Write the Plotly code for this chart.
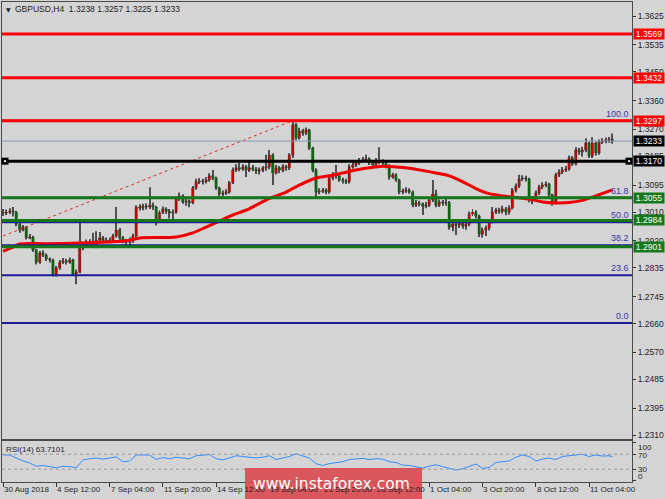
import plotly.graph_objects as go

W, H = 665, 499

# ---------------- data ----------------
opens = [1.3010,1.3007,1.3010,1.3013,1.3010,1.2972,1.2954,1.2963,1.2929,1.2932,
1.2891,1.2853,1.2882,1.2875,1.2863,1.2860,1.2812,1.2835,1.2853,1.2857,
1.2853,1.2860,1.2816,1.2822,1.2897,1.2907,1.2916,1.2910,1.2903,1.2922,
1.2929,1.2922,1.2919,1.2922,1.2935,1.2954,1.2929,1.2919,1.2916,1.2922,
1.2935,1.3026,1.3023,1.3029,1.3026,1.3032,1.3026,1.2985,1.3010,1.3020,
1.3013,1.3007,1.3010,1.3051,1.3061,1.3042,1.3045,1.3039,1.3086,1.3105,
1.3108,1.3105,1.3111,1.3124,1.3117,1.3086,1.3067,1.3070,1.3073,1.3102,
1.3142,1.3149,1.3145,1.3152,1.3142,1.3149,1.3145,1.3139,1.3142,1.3149,
1.3152,1.3189,1.3133,1.3149,1.3142,1.3152,1.3149,1.3189,1.3284,1.3243,
1.3265,1.3258,1.3268,1.3211,1.3142,1.3073,1.3076,1.3079,1.3073,1.3117,
1.3127,1.3124,1.3111,1.3108,1.3105,1.3152,1.3158,1.3164,1.3171,1.3174,
1.3177,1.3164,1.3158,1.3171,1.3167,1.3164,1.3155,1.3120,1.3127,1.3111,
1.3073,1.3076,1.3079,1.3073,1.3032,1.3039,1.3036,1.3029,1.3032,1.3048,
1.3067,1.3032,1.3042,1.3039,1.3040,1.2963,1.2972,1.2969,1.2976,1.2966,
1.2972,1.3004,1.3010,1.2998,1.2941,1.2954,1.2960,1.2979,1.3010,1.3016,
1.3013,1.3020,1.3010,1.3023,1.3079,1.3092,1.3114,1.3117,1.3114,1.3048,
1.3051,1.3070,1.3089,1.3095,1.3098,1.3064,1.3039,1.3127,1.3136,1.3142,
1.3145,1.3180,1.3161,1.3205,1.3199,1.3205,1.3227,1.3186,1.3227,1.3196,
1.3230,1.3233,1.3236,1.3238]

highs = [1.3020,1.3018,1.3022,1.3026,1.3014,1.2978,1.2970,1.2966,1.2941,1.2936,
1.2895,1.2888,1.2890,1.2880,1.2868,1.2864,1.2841,1.2860,1.2866,1.2864,
1.2868,1.2864,1.2830,1.2988,1.2915,1.2924,1.2925,1.2945,1.2950,1.2948,
1.2935,1.2930,1.2930,1.2942,1.3026,1.2960,1.2935,1.2926,1.2930,1.2942,
1.3032,1.3035,1.3036,1.3038,1.3088,1.3040,1.3030,1.3016,1.3028,1.3025,
1.3020,1.3018,1.3058,1.3072,1.3066,1.3052,1.3050,1.3092,1.3115,1.3116,
1.3115,1.3120,1.3132,1.3142,1.3122,1.3090,1.3078,1.3082,1.3108,1.3150,
1.3160,1.3165,1.3160,1.3158,1.3168,1.3158,1.3152,1.3150,1.3155,1.3190,
1.3205,1.3195,1.3158,1.3155,1.3160,1.3158,1.3195,1.3297,1.3290,1.3275,
1.3272,1.3276,1.3272,1.3215,1.3148,1.3085,1.3086,1.3085,1.3124,1.3136,
1.3158,1.3130,1.3118,1.3115,1.3160,1.3168,1.3172,1.3180,1.3183,1.3190,
1.3182,1.3170,1.3180,1.3214,1.3176,1.3170,1.3160,1.3134,1.3132,1.3115,
1.3084,1.3088,1.3085,1.3078,1.3048,1.3046,1.3040,1.3042,1.3055,1.3111,
1.3080,1.3050,1.3048,1.3052,1.3045,1.2980,1.2978,1.2985,1.2982,1.2980,
1.3012,1.3020,1.3016,1.3002,1.2962,1.2968,1.2986,1.3026,1.3024,1.3024,
1.3030,1.3026,1.3032,1.3086,1.3100,1.3127,1.3126,1.3124,1.3118,1.3060,
1.3078,1.3096,1.3104,1.3106,1.3102,1.3068,1.3134,1.3145,1.3152,1.3155,
1.3188,1.3186,1.3214,1.3212,1.3215,1.3242,1.3232,1.3245,1.3232,1.3238,
1.3242,1.3244,1.3246,1.3257]

lows = [1.2998,1.3001,1.3004,1.2996,1.2966,1.2945,1.2950,1.2924,1.2925,1.2885,
1.2846,1.2848,1.2869,1.2857,1.2852,1.2808,1.2808,1.2829,1.2847,1.2846,
1.2848,1.2810,1.2784,1.2818,1.2890,1.2900,1.2904,1.2898,1.2897,1.2915,
1.2915,1.2912,1.2913,1.2917,1.2930,1.2922,1.2912,1.2908,1.2900,1.2913,
1.2930,1.3015,1.3016,1.3018,1.3020,1.3017,1.2968,1.2980,1.3004,1.3005,
1.2990,1.2985,1.3005,1.3045,1.3036,1.3030,1.3025,1.3035,1.3080,1.3098,
1.3097,1.3100,1.3105,1.3110,1.3080,1.3060,1.3060,1.3064,1.3068,1.3098,
1.3136,1.3138,1.3140,1.3120,1.3136,1.3138,1.3130,1.3128,1.3135,1.3140,
1.3145,1.3095,1.3128,1.3132,1.3135,1.3140,1.3142,1.3180,1.3236,1.3238,
1.3250,1.3252,1.3205,1.3135,1.3051,1.3066,1.3070,1.3066,1.3068,1.3110,
1.3115,1.3105,1.3100,1.3098,1.3100,1.3146,1.3152,1.3158,1.3165,1.3168,
1.3158,1.3150,1.3152,1.3160,1.3155,1.3148,1.3112,1.3115,1.3105,1.3066,
1.3066,1.3070,1.3068,1.3025,1.3026,1.3028,1.3001,1.3022,1.3026,1.3042,
1.3025,1.3026,1.3030,1.3030,1.2955,1.2950,1.2938,1.2960,1.2958,1.2955,
1.2966,1.2998,1.2990,1.2932,1.2930,1.2935,1.2952,1.2974,1.3004,1.3005,
1.3006,1.3000,1.3002,1.3018,1.3072,1.3086,1.3108,1.3106,1.3040,1.3035,
1.3045,1.3064,1.3082,1.3088,1.3058,1.3030,1.3035,1.3120,1.3130,1.3136,
1.3140,1.3155,1.3156,1.3190,1.3185,1.3198,1.3180,1.3180,1.3188,1.3190,
1.3224,1.3226,1.3228,1.3225]

closes = [1.3007,1.3010,1.3013,1.3010,1.2972,1.2954,1.2963,1.2929,1.2932,1.2891,
1.2853,1.2882,1.2875,1.2863,1.2860,1.2812,1.2835,1.2853,1.2857,1.2853,
1.2860,1.2816,1.2822,1.2897,1.2907,1.2916,1.2910,1.2903,1.2922,1.2929,
1.2922,1.2919,1.2922,1.2935,1.2954,1.2929,1.2919,1.2916,1.2922,1.2935,
1.3026,1.3023,1.3029,1.3026,1.3032,1.3026,1.2985,1.3010,1.3020,1.3013,
1.3007,1.3010,1.3051,1.3061,1.3042,1.3045,1.3039,1.3086,1.3105,1.3108,
1.3105,1.3111,1.3124,1.3117,1.3086,1.3067,1.3070,1.3073,1.3102,1.3142,
1.3149,1.3145,1.3152,1.3142,1.3149,1.3145,1.3139,1.3142,1.3149,1.3152,
1.3189,1.3133,1.3149,1.3142,1.3152,1.3149,1.3189,1.3284,1.3243,1.3265,
1.3258,1.3268,1.3211,1.3142,1.3073,1.3076,1.3079,1.3073,1.3117,1.3127,
1.3124,1.3111,1.3108,1.3105,1.3152,1.3158,1.3164,1.3171,1.3174,1.3177,
1.3164,1.3158,1.3171,1.3167,1.3164,1.3155,1.3120,1.3127,1.3111,1.3073,
1.3076,1.3079,1.3073,1.3032,1.3039,1.3036,1.3029,1.3032,1.3048,1.3067,
1.3032,1.3042,1.3039,1.3040,1.2963,1.2972,1.2969,1.2976,1.2966,1.2972,
1.3004,1.3010,1.2998,1.2941,1.2954,1.2960,1.2979,1.3010,1.3016,1.3013,
1.3020,1.3010,1.3023,1.3079,1.3092,1.3114,1.3117,1.3114,1.3048,1.3051,
1.3070,1.3089,1.3095,1.3098,1.3064,1.3039,1.3127,1.3136,1.3142,1.3145,
1.3180,1.3161,1.3205,1.3199,1.3205,1.3227,1.3186,1.3227,1.3196,1.3230,
1.3233,1.3236,1.3238,1.3233]

ma_idx = [0,3,5,13,23,31,38,41,52,57,61,65,69,73,79,85,89,94,98,102,106,110,114,118,
          122,126,130,134,138,142,146,150,154,158,162,166,170,174,178,183]
ma_vals = [1.2887,1.2900,1.2910,1.2911,1.2913,1.2916,1.2921,1.2929,1.2932,1.2945,1.2963,
           1.2982,1.3001,1.3016,1.3048,1.3073,1.3095,1.3117,1.3124,1.3133,1.3142,1.3149,
           1.3154,1.3152,1.3148,1.3141,1.3133,1.3124,1.3106,1.3084,1.3068,1.3061,1.3056,
           1.3051,1.3042,1.3039,1.3040,1.3047,1.3061,1.3080]

rsi_idx = [0,2,4,6,8,10,12,14,16,18,20,22,24,26,28,30,32,34,36,38,40,42,44,46,48,50,
           52,54,56,58,60,62,64,66,68,70,72,74,76,78,80,82,84,86,88,90,92,94,96,98,
           100,102,104,106,108,110,112,114,116,118,120,122,124,126,128,130,132,134,136,
           138,140,142,144,146,148,150,152,154,156,158,160,162,164,166,168,170,172,174,
           176,178,180,182,183]
rsi_vals = [68,68,60,52,47,38,40,37,34,38,37,34,55,58,60,57,60,63,50,52,68,69,68,56,61,58,
            62,60,58,66,68,69,58,55,60,66,64,63,60,62,66,56,59,64,71,66,60,45,40,45,
            47,50,56,58,59,56,58,57,50,48,41,40,36,33,38,42,37,33,28,
            31,38,44,32,35,48,50,52,62,68,64,52,57,60,56,64,66,68,70,
            64,68,65,66,63.71]

trend_idx = [0, 87]
trend_vals = [1.2935, 1.3297]

red_levels = [1.3569, 1.3432, 1.3297]
black_level = 1.3170
last_price = 1.3233
green_levels = [1.3055, 1.2984, 1.2901]
fib_labels = ["100.0", "61.8", "50.0", "38.2", "23.6", "0.0"]
fib_levels = [1.3297, 1.3055, 1.2978, 1.2906, 1.2812, 1.2662]

price_ticks = [1.3625, 1.3535, 1.3450, 1.3360, 1.3270, 1.3185, 1.3095, 1.3010, 1.2920,
               1.2835, 1.2745, 1.2660, 1.2570, 1.2485, 1.2395, 1.2310]
rsi_ticks = [100, 70, 30, 0]
time_idx = [0, 16, 32, 48, 64, 80, 96, 112, 128, 144, 160, 176]
time_labels = ["30 Aug 2018", "4 Sep 12:00", "7 Sep 04:00", "11 Sep 20:00", "14 Sep 12:00",
               "19 Sep 04:00", "21 Sep 20:00", "26 Sep 12:00", "1 Oct 04:00", "3 Oct 20:00",
               "8 Oct 12:00", "11 Oct 04:00"]

header = "GBPUSD,H4  1.3238 1.3257 1.3225 1.3233"
rsi_title = "RSI(14) 63.7101"

# ---------------- style ----------------
BG = "#d4d4d4"
FONT = "Liberation Sans, Arial, sans-serif"
FS = 8
TXT = "#1e1e1e"
UP = "#d00000"
DN = "#0a6e0a"
WICK = "#505050"
GREEN_LINE = "#17781a"
FIB = "#1c1c96"


def px_y(p):
    return 1 - p / H


def px_x(p):
    return p / W


idx = list(range(len(closes)))
body_base = [min(o, c) for o, c in zip(opens, closes)]
body_h = [max(abs(c - o), 0.00012) for o, c in zip(opens, closes)]
body_col = [UP if c >= o else DN for o, c in zip(opens, closes)]

fig = go.Figure()

# wicks
fig.add_trace(go.Bar(x=idx, y=[h - l for h, l in zip(highs, lows)], base=lows,
                     width=0.3, marker=dict(color=WICK, line=dict(width=0)),
                     xaxis="x", yaxis="y", hoverinfo="skip", showlegend=False))
# bodies
fig.add_trace(go.Bar(x=idx, y=body_h, base=body_base, width=0.7,
                     marker=dict(color=body_col, line=dict(width=0.4, color="#303030")),
                     xaxis="x", yaxis="y", showlegend=False))
# moving average
fig.add_trace(go.Scatter(x=ma_idx, y=ma_vals, mode="lines",
                         line=dict(color="#ee0000", width=3, shape="spline", smoothing=0.8),
                         xaxis="x", yaxis="y", showlegend=False, hoverinfo="skip"))
# fibonacci trend line
fig.add_trace(go.Scatter(x=trend_idx, y=trend_vals, mode="lines",
                         line=dict(color="#e03030", width=1, dash="3px,3px"),
                         xaxis="x", yaxis="y", showlegend=False, hoverinfo="skip"))
# RSI
fig.add_trace(go.Scatter(x=rsi_idx, y=rsi_vals, mode="lines",
                         line=dict(color="#2f8fff", width=1),
                         xaxis="x2", yaxis="y2", showlegend=False))

shapes = []
for lv in fib_levels:
    shapes.append(dict(type="line", xref="x domain", yref="y", x0=0, x1=1, y0=lv, y1=lv,
                       line=dict(color=FIB, width=2)))
for lv in red_levels:
    shapes.append(dict(type="line", xref="x domain", yref="y", x0=0, x1=1, y0=lv, y1=lv,
                       line=dict(color="#ff0000", width=3)))
for lv in green_levels:
    shapes.append(dict(type="line", xref="x domain", yref="y", x0=0, x1=1, y0=lv, y1=lv,
                       line=dict(color=GREEN_LINE, width=3)))
shapes.append(dict(type="line", xref="x domain", yref="y", x0=0, x1=1, y0=last_price,
                   y1=last_price, line=dict(color="#8a9ab2", width=1)))
shapes.append(dict(type="line", xref="x domain", yref="y", x0=0, x1=1, y0=black_level,
                   y1=black_level, line=dict(color="#000000", width=3)))
# end squares of the black line
for xc in (5, 629):
    shapes.append(dict(type="rect", xref="paper", yref="y",
                       x0=px_x(xc - 3.5), x1=px_x(xc + 3.5), y0=black_level - 0.0011,
                       y1=black_level + 0.0011, fillcolor="#000000", line=dict(width=0)))
    shapes.append(dict(type="rect", xref="paper", yref="y",
                       x0=px_x(xc - 1), x1=px_x(xc + 1), y0=black_level - 0.0003,
                       y1=black_level + 0.0003, fillcolor="#ffffff", line=dict(width=0)))
# RSI level lines
for lv in (70, 30):
    shapes.append(dict(type="line", xref="x2 domain", yref="y2", x0=0, x1=1, y0=lv, y1=lv,
                       line=dict(color="#9a9a9a", width=1, dash="3px,3px")))
# watermark box
shapes.append(dict(type="rect", xref="paper", yref="paper", x0=px_x(245), x1=px_x(422),
                   y0=0, y1=px_y(468), fillcolor="rgba(217,78,84,0.93)", line=dict(width=0),
                   layer="above"))

annotations = []
# right side level labels
label_specs = [(lv, "#ff0000") for lv in red_levels] + [(last_price, "#000000"),
               (black_level, "#000000")] + [(lv, GREEN_LINE) for lv in green_levels]
for lv, col in label_specs:
    annotations.append(dict(xref="paper", yref="y", x=px_x(633), y=lv, xanchor="left",
                            yanchor="middle", text=f"{lv:.4f}", showarrow=False,
                            bgcolor=col, font=dict(family=FONT, size=FS + 0.5, color="#ffffff"),
                            borderpad=0, width=30, height=10))
# fib labels
for t, lv in zip(fib_labels, fib_levels):
    annotations.append(dict(xref="paper", yref="y", x=px_x(631), y=lv, xanchor="right",
                            yanchor="bottom", yshift=0, text=t, showarrow=False,
                            font=dict(family=FONT, size=9, color="#3838a8")))
# RSI tick labels
rsi_label_px = [447, 455, 469, 476]
for t, yp in zip(rsi_ticks, rsi_label_px):
    annotations.append(dict(xref="paper", yref="paper", x=px_x(636), y=px_y(yp),
                            xanchor="left", yanchor="middle", text=str(t), showarrow=False,
                            font=dict(family=FONT, size=FS, color=TXT)))
# time labels
for i, t in zip(time_idx, time_labels):
    annotations.append(dict(xref="x2", yref="paper", x=i, y=px_y(489), xanchor="left",
                            yanchor="middle", xshift=-1, text=t, showarrow=False,
                            font=dict(family=FONT, size=FS, color=TXT)))
# header
annotations.append(dict(xref="paper", yref="paper", x=px_x(4), y=px_y(9), xanchor="left",
                        yanchor="middle", text="▼", showarrow=False,
                        font=dict(family="DejaVu Sans", size=6, color=TXT)))
annotations.append(dict(xref="paper", yref="paper", x=px_x(13), y=px_y(9), xanchor="left",
                        yanchor="middle", text=header, showarrow=False,
                        font=dict(family=FONT, size=FS + 0.5, color=TXT)))
annotations.append(dict(xref="paper", yref="paper", x=px_x(4), y=px_y(449), xanchor="left",
                        yanchor="middle", text=rsi_title, showarrow=False,
                        font=dict(family=FONT, size=FS, color=TXT)))
# watermark text
annotations.append(dict(xref="paper", yref="paper", x=px_x(331), y=px_y(484),
                        xanchor="center", yanchor="middle", text="www.instaforex.com",
                        showarrow=False, font=dict(family="DejaVu Sans", size=15.5,
                                                   color="#ffffff")))

xr = [-0.3, 188.9]
fig.update_layout(
    width=W, height=H,
    margin=dict(l=0, r=0, t=0, b=0),
    paper_bgcolor=BG, plot_bgcolor=BG,
    barmode="overlay",
    showlegend=False,
    font=dict(family=FONT, size=FS, color=TXT),
    xaxis=dict(domain=[px_x(2), px_x(632)], range=xr, showgrid=False, zeroline=False,
               showticklabels=False, ticks="", showline=True, mirror=True,
               linecolor="#4a4a4a", linewidth=1, anchor="y"),
    yaxis=dict(domain=[px_y(439), px_y(2)], range=[1.22979, 1.36696], side="right",
               anchor="x", showgrid=False, zeroline=False, tickvals=price_ticks,
               ticktext=[f"{v:.4f}" for v in price_ticks], ticks="outside", ticklen=3,
               tickcolor="#333333", showline=True, mirror=True, linecolor="#4a4a4a",
               linewidth=1, tickfont=dict(family=FONT, size=FS + 0.5, color=TXT)),
    xaxis2=dict(domain=[px_x(2), px_x(632)], range=xr, showgrid=False, zeroline=False,
                tickvals=time_idx, showticklabels=False, ticks="outside", ticklen=4,
                tickcolor="#333333", showline=True, mirror=True, linecolor="#4a4a4a",
                linewidth=1, anchor="y2"),
    yaxis2=dict(domain=[px_y(482), px_y(441)], range=[-4, 105.3], side="right",
                anchor="x2", showgrid=False, zeroline=False, showticklabels=False,
                tickvals=rsi_ticks, ticks="outside", ticklen=3, tickcolor="#333333",
                showline=True, mirror=True, linecolor="#4a4a4a", linewidth=1),
    shapes=shapes,
    annotations=annotations,
)

fig.write_html("out.html", config={"displayModeBar": False},
               post_script="document.body.style.margin='0';document.body.style.overflow='hidden';")
